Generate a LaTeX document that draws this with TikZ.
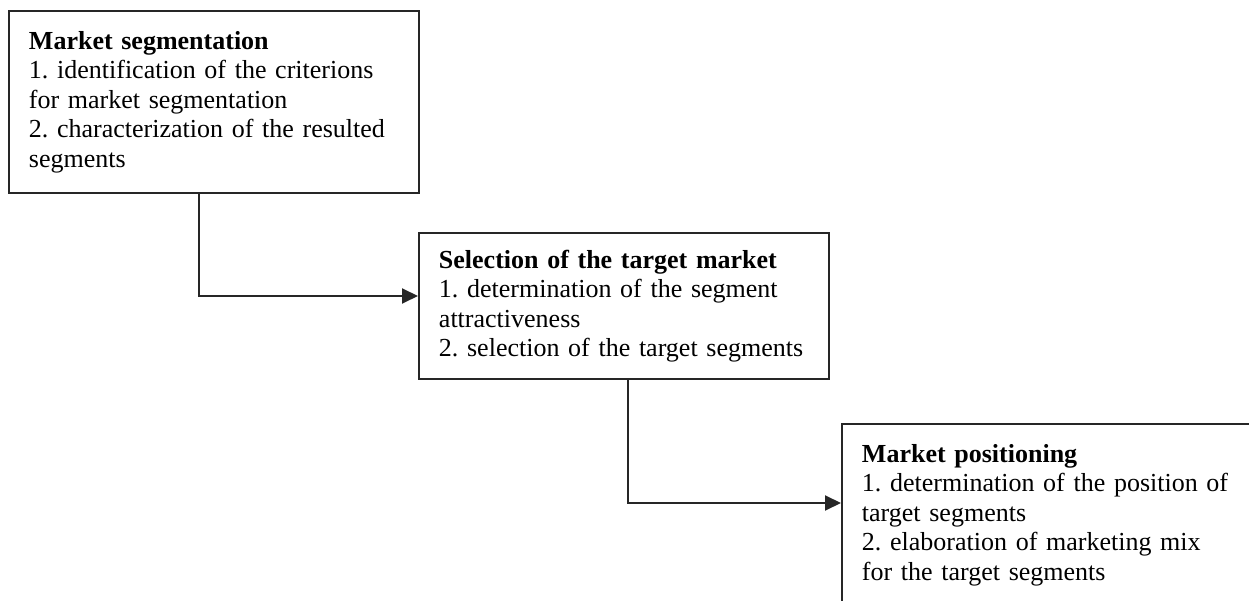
\documentclass[tikz,border=0pt]{standalone}
\usepackage{fontspec}
\setmainfont{Liberation Serif}
\usetikzlibrary{arrows.meta}
\newcommand{\stagefont}{\fontsize{14.8}{16.8}\selectfont\frenchspacing\hyphenpenalty=10000\relax}

\begin{document}
\begin{tikzpicture}[x=0.02cm,y=-0.02cm,
  stagebox/.style={draw=black!85,line width=1.1pt,anchor=north west,align=left,
    text width=7.4cm,inner xsep=0.4cm,inner ysep=0pt,minimum width=8.2cm,
    font=\stagefont},
  link/.style={draw=black!85,line width=1.1pt,-{Triangle[length=3.2mm,width=3mm]}}]
\useasboundingbox (0,0) rectangle (1249,601);
\clip (0,0) rectangle (1249,601);

% Stages
\node[stagebox,minimum height=3.64cm] (seg) at (8,10) {\textbf{Market segmentation}\\
  1. identification of the criterions\\
  for market segmentation\\
  2. characterization of the resulted\\
  segments};
\node[stagebox,minimum height=2.92cm] (sel) at (418,232) {\textbf{Selection of the target market}\\
  1. determination of the segment\\
  attractiveness\\
  2. selection of the target segments};
\node[stagebox,minimum height=3.64cm] (pos) at (841,423) {\textbf{Market positioning}\\
  1. determination of the position of\\
  target segments\\
  2. elaboration of marketing mix\\
  for the target segments};

% Links between stages
\coordinate (bendA) at (199,296);
\draw[link] (seg.south -| bendA) -- (bendA) -- (sel.west |- bendA);
\coordinate (bendB) at (628,503);
\draw[link] (sel.south -| bendB) -- (bendB) -- (pos.west |- bendB);

\end{tikzpicture}
\end{document}
